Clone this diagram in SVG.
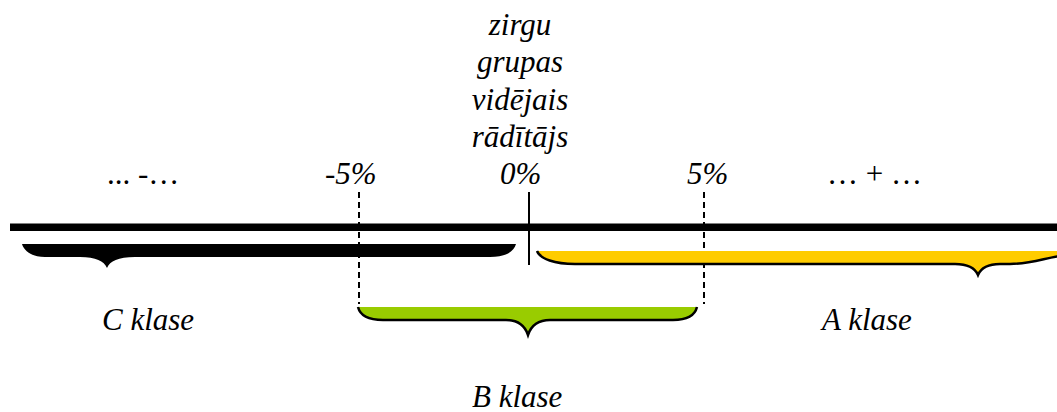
<svg xmlns="http://www.w3.org/2000/svg" width="1057" height="412" viewBox="0 0 1057 412">
<style>
.dash{stroke:#000;stroke-width:2;stroke-dasharray:6 4;fill:none}
.edge{fill:none;stroke:#000;stroke-width:2.5}
</style>
<rect width="1057" height="412" fill="#fff"/>
<g id="axis">
<rect x="10" y="223.5" width="1047" height="7.5" fill="#000"/>
<line x1="529" y1="192" x2="529" y2="265" stroke="#000" stroke-width="2"/>
</g>
<g id="connectors">
<line class="dash" x1="359" y1="192" x2="359" y2="304"/>
<line class="dash" x1="704" y1="192" x2="704" y2="304"/>
</g>
<g id="title" font-size="31" font-style="italic">
<text x="520" y="35" text-anchor="middle" font-family="Times New Roman">zirgu</text>
<text x="520" y="72" text-anchor="middle" font-family="Times New Roman">grupas</text>
<text x="520" y="110" text-anchor="middle" font-family="Times New Roman">vidējais</text>
<text x="520" y="147" text-anchor="middle" font-family="Times New Roman">rādītājs</text>
</g>
<g id="ticks" font-size="31">
<text x="107" y="184" font-family="Times New Roman">... -…</text>
<text x="325" y="184" font-style="italic" font-family="Times New Roman">-5%</text>
<text x="500" y="184" font-style="italic" font-family="Times New Roman">0%</text>
<text x="687" y="184" font-style="italic" font-family="Times New Roman">5%</text>
<text x="827" y="184" font-family="Times New Roman">… + …</text>
</g>
<g id="classC" font-size="31" font-style="italic">
<path d="M 22,244 L 516,244 C 514,252 505,257 490,257 L 135,257 C 118,257 110,261 107,268 C 104,261 96,257 80,257 L 45,257 C 32,257 24,251 22,244 Z" fill="#000"/>
<text x="102" y="330" font-family="Times New Roman">C klase</text>
</g>
<g id="classA" font-size="31" font-style="italic">
<path d="M 537,251 L 1060,251 L 1060,256 C 1045,258 1030,264 1010,264 L 1000,264 C 988,264 981,268 978,275 C 975,268 968,264 955,264 L 575,264 C 555,264 540,259 537,251 Z" fill="#FFCC00"/>
<path class="edge" d="M 537,251 C 540,259 555,264 575,264 L 955,264 C 968,264 975,268 978,275 C 981,268 988,264 1000,264 L 1010,264 C 1030,264 1045,258 1060,256"/>
<text x="822" y="330" font-family="Times New Roman">A klase</text>
</g>
<g id="classB" font-size="31" font-style="italic">
<path d="M 358,307 L 697,307 C 695,315 688,320 673,320 L 550,320 C 537,320 531,326 528,335 C 525,326 519,320 506,320 L 383,320 C 368,320 360,315 358,307 Z" fill="#99CC00"/>
<path class="edge" d="M 358,307 C 360,315 368,320 383,320 L 506,320 C 519,320 525,326 528,335 C 531,326 537,320 550,320 L 673,320 C 688,320 695,315 697,307"/>
<text x="472" y="407" font-family="Times New Roman">B klase</text>
</g>
</svg>
